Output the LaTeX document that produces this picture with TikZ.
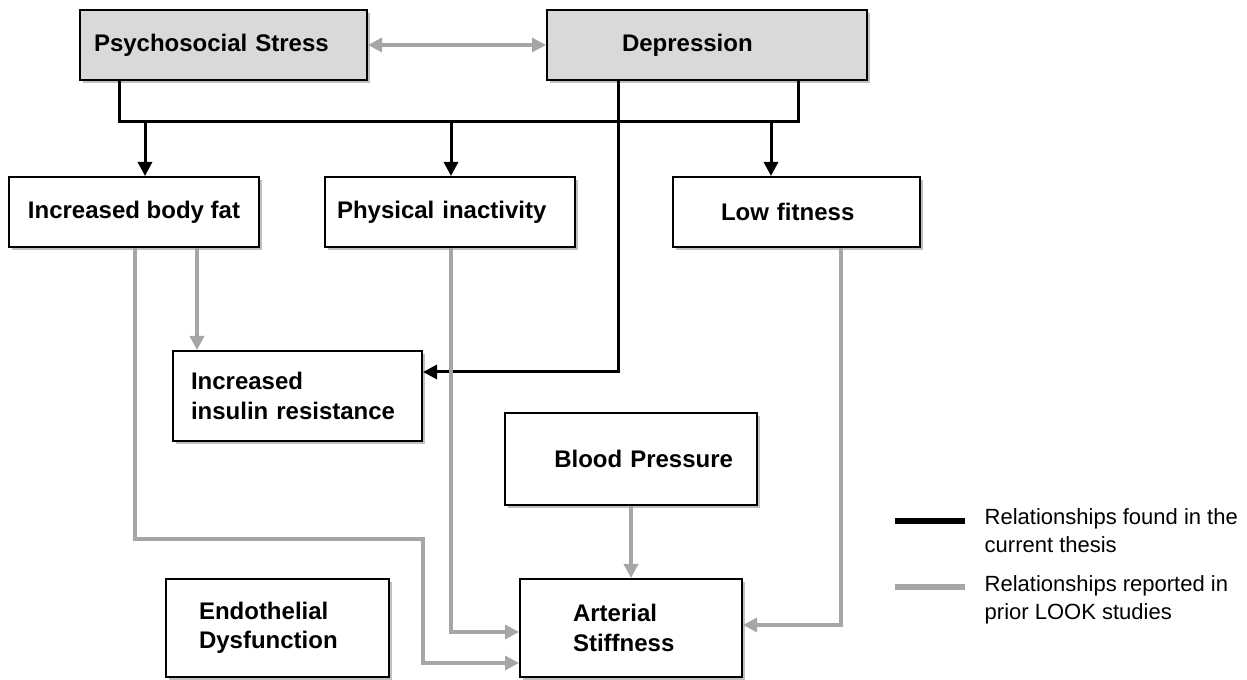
\documentclass[tikz,border=0pt]{standalone}
\usepackage{fontspec}
\setmainfont{Liberation Sans}
\usetikzlibrary{arrows.meta,shadows}
\definecolor{boxgray}{HTML}{D9D9D9}
\definecolor{linegray}{HTML}{A6A6A6}
\begin{document}
\begin{tikzpicture}[x=0.75pt,y=-0.75pt,
    box/.style={draw=black,line width=1.5pt,fill=white,minimum height=52.5pt,
      font=\bfseries\fontsize{18}{22}\selectfont,
      drop shadow={shadow xshift=2.5pt,shadow yshift=-2.5pt,fill=black,opacity=0.25}},
    topbox/.style={box,fill=boxgray},
    found/.style={black,line width=2.25pt,-{Triangle[length=10.5pt,width=10.5pt]}},
    prior/.style={linegray,line width=2.5pt,-{Triangle[length=10.5pt,width=10.5pt]}},
    legtext/.style={anchor=west,align=left,font=\fontsize{16.5}{21}\selectfont}]
  \useasboundingbox (0,0) rectangle (1247,680);
  % boxes
  \node[topbox,minimum width=215.25pt,inner xsep=10.5pt,text width=194.25pt,align=left]
    (stress) at (223.5,45) {Psychosocial Stress};
  \node[topbox,minimum width=240pt,inner xsep=56.25pt,text width=127.5pt,align=left]
    (depr) at (707,45) {Depression};
  \node[box,minimum width=187.5pt] (fat) at (134,212) {Increased body fat};
  \node[box,minimum width=187.5pt,inner xsep=9pt,text width=169.5pt,align=left]
    (inact) at (450,212) {Physical inactivity};
  \node[box,minimum width=185.25pt,inner xsep=36pt,text width=113.25pt,align=left]
    (lowfit) at (796.5,212) {Low fitness};
  \node[box,minimum width=186.75pt,minimum height=67.5pt,inner xsep=13.5pt,text width=159.75pt,align=left]
    (insulin) at (297.5,396) {Increased\\insulin resistance};
  \node[box,minimum width=189pt,minimum height=69pt,inner xsep=18pt,text width=153pt,align=right]
    (bp) at (631,459) {Blood Pressure};
  \node[box,minimum width=167.25pt,minimum height=73.5pt,inner xsep=24.75pt,text width=117.75pt,align=left]
    (endo) at (277.5,628) {Endothelial\\Dysfunction};
  \node[box,minimum width=166.5pt,minimum height=73.5pt,inner xsep=39.75pt,text width=87pt,align=left]
    (art) at (631,628) {Arterial\\Stiffness};
  % relationships found in the current thesis
  \coordinate (barw) at (119,122);
  \coordinate (bare) at (798,122);
  \coordinate (j1) at (145,122);
  \coordinate (j2) at (451,122);
  \coordinate (j3) at (771,122);
  \coordinate (dturn) at (618,372);
  \begin{scope}
    \draw[found,-] (stress.south -| barw) -- (barw) -- (bare) -- (bare |- depr.south);
    \draw[found] (j1) -- (j1 |- fat.north);
    \draw[found] (j2) -- (j2 |- inact.north);
    \draw[found] (j3) -- (j3 |- lowfit.north);
    \draw[found] (dturn |- depr.south) -- (dturn) -- (dturn -| insulin.east);
  \end{scope}
  % relationships reported in prior studies
  \coordinate (f1) at (135,539);
  \coordinate (f2) at (423,663);
  \coordinate (f3) at (197,300);
  \coordinate (p1) at (451,632);
  \coordinate (l1) at (841,625);
  \begin{scope}
    \draw[prior,{Triangle[length=10.5pt,width=10.5pt]}-{Triangle[length=10.5pt,width=10.5pt]}]
      (stress.east) -- (depr.west);
    \draw[prior] (f1 |- fat.south) -- (f1) -| (f2) -- (f2 -| art.west);
    \draw[prior] (f3 |- fat.south) -- (f3 |- insulin.north);
    \draw[prior] (p1 |- inact.south) -- (p1) -- (p1 -| art.west);
    \draw[prior] (l1 |- lowfit.south) -- (l1) -- (l1 -| art.east);
    \draw[prior] (bp.south) -- (art.north);
  \end{scope}
  % legend
  \coordinate (kb1) at (895,521);
  \coordinate (kb2) at (965,521);
  \coordinate (kg1) at (895,587);
  \coordinate (kg2) at (965,587);
  \draw[black,line width=4.5pt] (kb1) -- (kb2);
  \draw[linegray,line width=4pt] (kg1) -- (kg2);
  \node[legtext] (keyfound) at (980,531) {Relationships found in the\\current thesis};
  \node[legtext] (keyprior) at (980,600) {Relationships reported in\\prior LOOK studies};
\end{tikzpicture}
\end{document}
